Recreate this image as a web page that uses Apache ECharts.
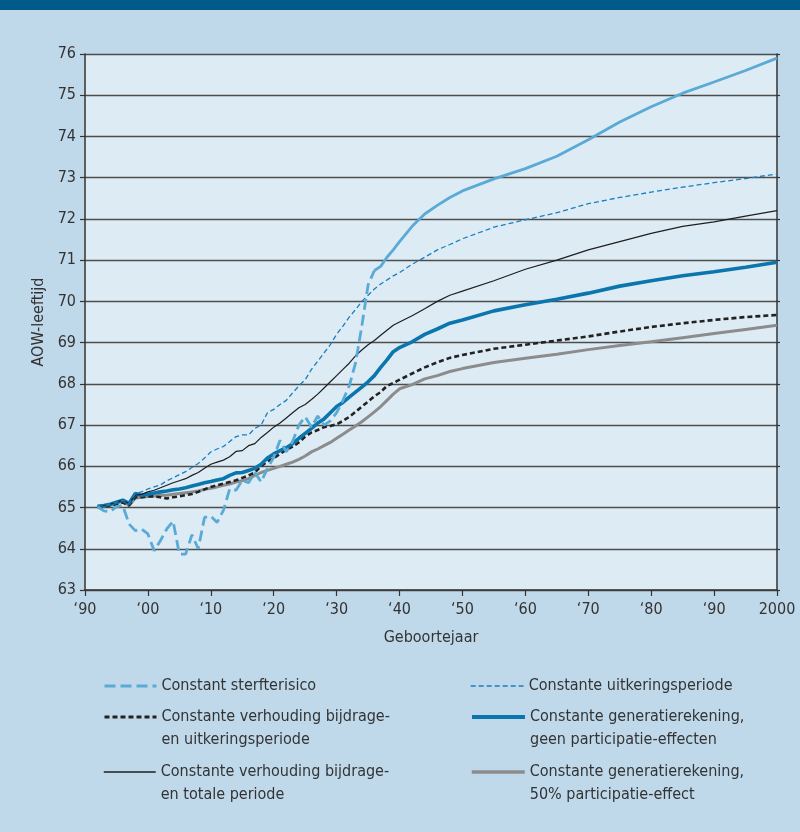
<!DOCTYPE html>
<html>
<head>
<meta charset="utf-8">
<script src="https://cdn.jsdelivr.net/npm/echarts@6/dist/echarts.min.js"></script>
<style>
html,body{margin:0;padding:0;background:#bfd9eb;}
#chart{width:800px;height:832px;}
</style>
</head>
<body>
<div id="chart"></div>
<script>
// ---- data ----
const years = [1892,1893,1894,1895,1896,1897,1898,1899,1900,1901,1902,1903,1904,1905,1906,1907,1908,1909,
  1910,1911,1912,1913,1914,1915,1916,1917,1918,1919,1920,1921,1922,1923,1924,1925,1926,1927,1928,1929,
  1930,1931,1932,1933,1934,1935,1936,1937,1938,1939,1940,
  1942,1944,1946,1948,1950,1955,1960,1965,1970,1975,1980,1985,1990,1995,2000];

const sterfterisico = [65.02,64.92,64.90,65.02,65.05,64.60,64.44,64.48,64.36,63.95,64.20,64.48,64.67,63.87,63.87,64.34,64.00,64.76,
  64.79,64.64,64.93,65.45,65.42,65.66,65.60,65.85,65.62,65.95,66.22,66.63,66.35,66.60,67.00,67.20,66.95,67.22,67.00,67.10,
  67.30,67.60,67.95,68.50,69.40,70.40,70.75,70.85,71.07,71.25,71.45,
  71.82,72.12,72.33,72.52,72.68,72.97,73.22,73.52,73.92,74.35,74.72,75.05,75.32,75.60,75.90];

const uitkeringsperiode = [65.03,65.05,65.08,65.13,65.18,65.10,65.34,65.38,65.45,65.50,65.55,65.65,65.72,65.80,65.87,65.97,66.07,66.20,
  66.35,66.42,66.48,66.60,66.72,66.76,66.76,66.92,67.00,67.30,67.38,67.50,67.60,67.78,67.95,68.10,68.35,68.55,68.75,68.95,
  69.20,69.40,69.62,69.80,70.00,70.15,70.30,70.42,70.52,70.62,70.70,
  70.90,71.07,71.25,71.38,71.52,71.80,71.98,72.15,72.37,72.52,72.65,72.77,72.88,72.98,73.09];

const verhoudingUitkering = [65.00,65.02,65.05,65.08,65.12,65.05,65.25,65.25,65.27,65.27,65.25,65.22,65.25,65.27,65.30,65.33,65.38,65.44,
  65.50,65.54,65.58,65.62,65.66,65.72,65.78,65.85,66.00,66.12,66.20,66.30,66.40,66.48,66.58,66.72,66.82,66.88,66.95,66.98,
  67.02,67.10,67.20,67.32,67.45,67.57,67.70,67.80,67.95,68.02,68.10,
  68.25,68.40,68.52,68.63,68.70,68.85,68.95,69.05,69.15,69.27,69.38,69.47,69.55,69.62,69.67];

const generatieGeen = [65.03,65.05,65.08,65.13,65.18,65.10,65.34,65.30,65.32,65.35,65.38,65.40,65.43,65.45,65.48,65.52,65.56,65.60,
  65.63,65.67,65.70,65.78,65.84,65.85,65.90,65.95,66.05,66.20,66.30,66.38,66.45,66.55,66.68,66.80,66.92,67.05,67.15,67.30,
  67.45,67.55,67.68,67.80,67.92,68.05,68.20,68.40,68.58,68.78,68.88,
  69.02,69.20,69.33,69.47,69.55,69.77,69.92,70.05,70.20,70.37,70.50,70.62,70.72,70.83,70.95];

const verhoudingTotaal = [65.03,65.05,65.08,65.13,65.18,65.10,65.30,65.32,65.38,65.42,65.48,65.54,65.60,65.65,65.70,65.78,65.85,65.95,
  66.05,66.10,66.15,66.23,66.36,66.38,66.50,66.55,66.70,66.82,66.95,67.05,67.17,67.30,67.42,67.50,67.62,67.75,67.90,68.05,
  68.20,68.35,68.50,68.68,68.82,68.95,69.05,69.18,69.30,69.42,69.50,
  69.65,69.82,70.00,70.15,70.25,70.50,70.78,71.00,71.25,71.45,71.65,71.82,71.93,72.07,72.20];

const generatie50 = [65.02,65.04,65.06,65.10,65.15,65.05,65.23,65.25,65.27,65.28,65.30,65.30,65.32,65.34,65.36,65.38,65.40,65.44,
  65.47,65.50,65.54,65.57,65.62,65.65,65.70,65.78,65.85,65.90,65.95,66.00,66.05,66.10,66.17,66.25,66.35,66.42,66.50,66.58,
  66.68,66.78,66.88,66.98,67.08,67.20,67.32,67.45,67.60,67.75,67.88,
  67.98,68.12,68.20,68.30,68.37,68.52,68.62,68.72,68.83,68.93,69.02,69.12,69.22,69.32,69.42];

const sterfteDashedUntil = 1936;

const names = [
  'Constant sterfterisico',
  'Constante uitkeringsperiode',
  'Constante verhouding bijdrage-\nen uitkeringsperiode',
  'Constante generatierekening,\ngeen participatie-effecten',
  'Constante verhouding bijdrage-\nen totale periode',
  'Constante generatierekening,\n50% participatie-effect'
];

const yTicks = {min: 63, max: 76, step: 1};
const xTicks = {min: 1890, max: 2000, step: 10};

// ---- build ----
const pair = arr => years.map((y, i) => [y, arr[i]]);
const FONT = '"DejaVu Sans Condensed", "DejaVu Sans", sans-serif';
const TXT = '#333333';

const chart = echarts.init(document.getElementById('chart'), null, {renderer: 'canvas'});

function leg(name, left, top, multi, w, lw) {
  return {
    data: [name], left: left, top: top, padding: 0, itemWidth: w, itemHeight: 12,
    selectedMode: false,
    itemStyle: {opacity: 0},
    lineStyle: {width: lw},
    // a leading empty line keeps the icon level with the first text line
    formatter: n => multi ? '\n' + n : n,
    textStyle: {color: TXT, fontFamily: FONT, fontSize: 16, lineHeight: 23}
  };
}

const option = {
  backgroundColor: '#bfd9eb',
  animation: false,
  graphic: [{type: 'rect', left: 0, top: 0, shape: {width: 800, height: 10}, style: {fill: '#005a8a'}, silent: true}],
  grid: {left: 85, right: 23, top: 54, bottom: 242, show: true, backgroundColor: '#ddebf5', borderWidth: 0},
  legend: [
    leg(names[0], 103, 674.5, false, 52, 3),
    leg(names[1], 470, 674.5, false, 53, 1.3),
    leg(names[2], 103, 682.5, true, 52, 3),
    leg(names[3], 470, 682.5, true, 53, 4),
    leg(names[4], 103, 737.5, true, 52, 1.5),
    leg(names[5], 470, 737.5, true, 53, 3.5)
  ],
  xAxis: {
    type: 'value', min: xTicks.min, max: xTicks.max, interval: xTicks.step,
    name: 'Geboortejaar', nameLocation: 'middle', nameGap: 40,
    nameTextStyle: {color: TXT, fontFamily: FONT, fontSize: 16},
    axisLine: {show: true, lineStyle: {color: '#333', width: 1.5}},
    axisTick: {show: true, length: 6, lineStyle: {color: '#333', width: 1.2}},
    axisLabel: {color: TXT, fontFamily: FONT, fontSize: 16, margin: 12,
      formatter: v => v === 2000 ? '2000' : '\u2018' + String(v % 100).padStart(2, '0')},
    splitLine: {show: false}
  },
  yAxis: [{
    type: 'value', min: yTicks.min, max: yTicks.max, interval: yTicks.step,
    name: 'AOW-leeftijd', nameLocation: 'middle', nameGap: 38, nameRotate: 90,
    nameTextStyle: {color: TXT, fontFamily: FONT, fontSize: 16},
    axisLine: {show: true, lineStyle: {color: '#333', width: 1.5}},
    axisTick: {show: true, length: 5, lineStyle: {color: '#333', width: 1.2}},
    axisLabel: {color: TXT, fontFamily: FONT, fontSize: 16, margin: 9},
    splitLine: {show: true, lineStyle: {color: '#4d4d4d', width: 1.3}}
  }, {
    type: 'value', position: 'right', min: yTicks.min, max: yTicks.max, interval: yTicks.step,
    axisLine: {show: true, lineStyle: {color: '#333', width: 1.5}},
    axisTick: {show: true, length: 3, lineStyle: {color: '#333', width: 1.2}},
    axisLabel: {show: false}, splitLine: {show: false}
  }],
  series: [
    {name: names[5], type: 'line', symbol: 'none', data: pair(generatie50), z: 2,
      lineStyle: {color: '#8c8c8c', width: 3}, itemStyle: {color: '#8c8c8c'}},
    {name: names[2], type: 'line', symbol: 'none', data: pair(verhoudingUitkering), z: 3,
      lineStyle: {color: '#222222', width: 2.6, type: [5, 3]}, itemStyle: {color: '#222222'}},
    {name: names[3], type: 'line', symbol: 'none', data: pair(generatieGeen), z: 4,
      lineStyle: {color: '#0b76ae', width: 3.6}, itemStyle: {color: '#0b76ae'}},
    {name: names[4], type: 'line', symbol: 'none', data: pair(verhoudingTotaal), z: 5,
      lineStyle: {color: '#1e1e1e', width: 1.2}, itemStyle: {color: '#1e1e1e'}},
    {name: names[1], type: 'line', symbol: 'none', data: pair(uitkeringsperiode), z: 6,
      lineStyle: {color: '#1a7fbf', width: 1.3, type: [5, 3]}, itemStyle: {color: '#1a7fbf'}},
    {name: names[0], type: 'line', symbol: 'none', z: 7,
      data: years.map((y, i) => [y, y <= sterfteDashedUntil ? sterfterisico[i] : null]),
      lineStyle: {color: '#5aaad6', width: 2.8, type: [11, 5]}, itemStyle: {color: '#5aaad6'}},
    {name: 'sterfterisico-vervolg', type: 'line', symbol: 'none', z: 7,
      data: years.map((y, i) => [y, y >= sterfteDashedUntil ? sterfterisico[i] : null]),
      lineStyle: {color: '#5aaad6', width: 2.8}, itemStyle: {color: '#5aaad6'}}
  ]
};
chart.setOption(option);
</script>
</body>
</html>
